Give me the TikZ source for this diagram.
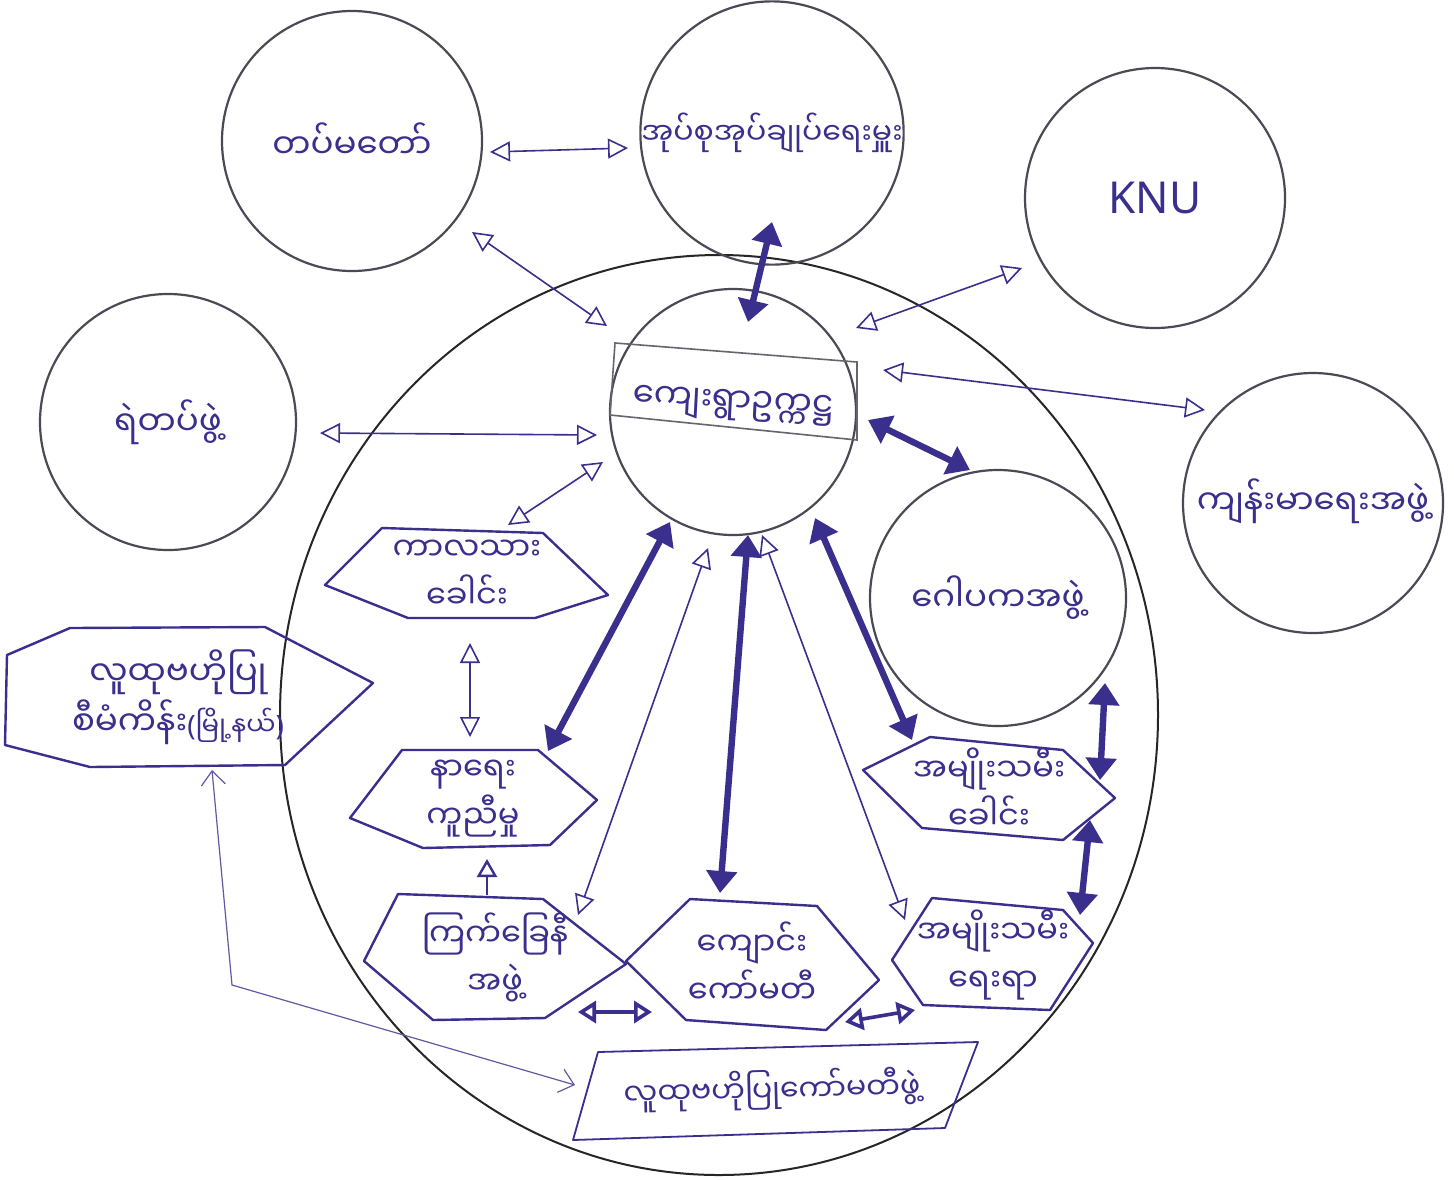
\documentclass[tikz,border=0pt]{standalone}
\usepackage{fontspec}
\setmainfont{Noto Sans}
\newfontfamily\mya[Script=Myanmar]{Noto Sans Myanmar UI}
\newfontfamily\latn{Noto Sans}
\usetikzlibrary{arrows.meta,calc}
\definecolor{pen}{HTML}{3B2F8E}
\definecolor{pencil}{HTML}{4A4A55}
\tikzset{
  orb/.style={circle, draw=pencil, line width=1.1pt, inner sep=0pt, minimum size=#1,
              font=\mya\fontsize{17}{24}\selectfont, text=pen, align=center},
  htxt/.style={font=\mya\fontsize{16}{24}\selectfont, text=pen, align=center, inner sep=0pt},
  hexline/.style={draw=pen, line width=1.2pt, line join=round},
  thinarr/.style={draw=pen, line width=0.8pt, {Triangle[open,length=10pt,width=10pt]}-{Triangle[open,length=10pt,width=10pt]}},
  medarr/.style={draw=pen, line width=1.8pt, {Triangle[open,length=9pt,width=11pt]}-{Triangle[open,length=9pt,width=11pt]}},
  thickarr/.style={draw=pen, line width=3.2pt, {Triangle[length=11pt,width=15pt]}-{Triangle[length=11pt,width=15pt]}},
  singlearr/.style={draw=pen, line width=1.2pt, -{Triangle[open,length=9pt,width=10pt]}},
  linkarr/.style={draw=pen!80, line width=0.6pt, {Straight Barb[length=7pt,width=12pt]}-{Straight Barb[length=7pt,width=12pt]}},
}
\begin{document}
\begin{tikzpicture}[x=0.5pt,y=-0.5pt]
\useasboundingbox (0,0) rectangle (1454,1179);
\fill[white] (0,0) rectangle (1454,1179);
% the big enclosing circle
\draw[black!85, line width=1pt] (719,715) ellipse [x radius=439, y radius=460];

% outer circles
\node[orb=130pt] (tat) at (352,141) {တပ်မတော်};
\node[orb=130pt, font=\mya\fontsize{15}{22}\selectfont] (adm) at (772,133) {အုပ်စုအုပ်ချုပ်ရေးမှူး};
\node[orb=130pt, font=\latn\fontsize{22}{26}\selectfont] (knu) at (1155,198) {KNU};
\node[orb=128pt] (pol) at (168,422) {\raisebox{4pt}{ရဲတပ်ဖွဲ့}};
\node[orb=130pt] (hlt) at (1313,503) {\raisebox{6pt}{ကျန်းမာရေးအဖွဲ့}};
\node[orb=128pt] (gaw) at (998,598) {ဂေါပကအဖွဲ့};

% centre circle with its box
\node[orb=123pt] (ctr) at (733,412) {\rotatebox{-3}{\raisebox{11pt}{ကျေးရွာဥက္ကဋ္ဌ}}};
\draw[pencil!85, line width=0.8pt, shift={(ctr)}] (-118,-69) -- (124,-50) -- (124,28) -- (-123,3) -- cycle;

% hexagon groups
\node[htxt] (kal) at (467,574) {ကာလသား\\ခေါင်း};
\draw[hexline, shift={(kal)}] (-142,11) -- (-85,-46) -- (76,-41) -- (141,21) -- (68,44) -- (-59,44) -- cycle;

\node[htxt] (nar) at (473,799) {နာရေး\\ကူညီမှု};
\draw[hexline, shift={(nar)}] (-123,19) -- (-71,-49) -- (65,-49) -- (124,1) -- (77,46) -- (-50,49) -- cycle;

\node[htxt] (kkn) at (495,957) {ကြက်ခြေနီ\\အဖွဲ့};
\draw[hexline, shift={(kkn)}] (-131,4) -- (-97,-63) -- (48,-58) -- (131,7) -- (50,61) -- (-62,63) -- cycle;

\node[htxt] (kyg) at (752,963) {ကျောင်း\\ကော်မတီ};
\draw[hexline, shift={(kyg)}] (-126,-2) -- (-62,-64) -- (65,-57) -- (127,17) -- (74,67) -- (-66,57) -- cycle;

\node[htxt] (amk) at (989,789) {အမျိုးသမီး\\ခေါင်း};
\draw[hexline, shift={(amk)}] (-126,-19) -- (-59,-52) -- (74,-39) -- (126,9) -- (74,51) -- (-67,39) -- cycle;

\node[htxt] (amr) at (993,955) {အမျိုးသမီး\\ရေးရာ};
\draw[hexline, shift={(amr)}] (-101,5) -- (-61,-57) -- (70,-45) -- (100,-12) -- (57,55) -- (-70,50) -- cycle;

% left project box
\node[htxt, font=\mya\fontsize{17}{25}\selectfont] (lth) at (178,697) {လူထုဗဟိုပြု\\စီမံကိန်း{\latn\fontsize{14}{16}\selectfont(}{\fontsize{13}{16}\selectfont မြို့နယ်}{\latn\fontsize{14}{16}\selectfont)}};
\draw[hexline, shift={(lth)}] (-171,-42) -- (-108,-69) -- (87,-70) -- (195,-14) -- (107,68) -- (-88,70) -- (-173,48) -- cycle;

% bottom committee box
\node[htxt, font=\mya\fontsize{15}{20}\selectfont, rotate=1.5] (lkm) at (772,1090) {လူထုဗဟိုပြုကော်မတီဖွဲ့};
\draw[hexline, line width=0.9pt, shift={(lkm)}] (-174,-38) -- (206,-48) -- (173,38) -- (-199,50) -- cycle;

% connectors
\draw[thinarr] ($(tat)+(138,11)$) -- ($(adm)+(-144,15)$);
\draw[thinarr] ($(tat)+(120,91)$) -- ($(ctr)+(-126,-86)$);
\draw[thickarr] ($(adm)+(0,89)$) -- ($(ctr)+(15,-90)$);
\draw[thinarr] ($(knu)+(-133,70)$) -- ($(ctr)+(123,-84)$);
\draw[thinarr] ($(hlt)+(-108,-93)$) -- ($(ctr)+(150,-42)$);
\draw[thinarr] ($(pol)+(152,11)$) -- ($(ctr)+(-136,23)$);
\draw[thinarr] ($(kal)+(41,-49)$) -- ($(ctr)+(-130,50)$);
\draw[thickarr] ($(gaw)+(-28,-128)$) -- ($(ctr)+(135,8)$);
\draw[thinarr] ($(kal)+(3,69)$) -- ($(nar)+(-3,-62)$);
\draw[thickarr] ($(nar)+(75,-48)$) -- ($(ctr)+(-63,110)$);
\draw[thinarr] ($(kkn)+(83,-42)$) -- ($(ctr)+(-25,136)$);
\draw[thickarr] ($(kyg)+(-32,-70)$) -- ($(ctr)+(15,123)$);
\draw[thinarr] ($(amr)+(-88,-35)$) -- ($(ctr)+(29,123)$);
\draw[thickarr] ($(amk)+(-77,-49)$) -- ($(ctr)+(82,106)$);
\draw[thickarr] ($(gaw)+(107,85)$) -- ($(amk)+(111,-9)$);
\draw[thickarr] ($(amk)+(101,31)$) -- ($(amr)+(87,-40)$);
\draw[singlearr] ($(kkn)+(-8,-62)$) -- ($(nar)+(14,60)$);
\draw[medarr] ($(kkn)+(83,55)$) -- ($(kyg)+(-100,49)$);
\draw[medarr] ($(kyg)+(93,59)$) -- ($(amr)+(-78,55)$);
\draw[linkarr] ($(lth)+(34,73)$) -- ($(lth)+(54,288)$) -- ($(lkm)+(-197,-5)$);
\end{tikzpicture}
\end{document}
